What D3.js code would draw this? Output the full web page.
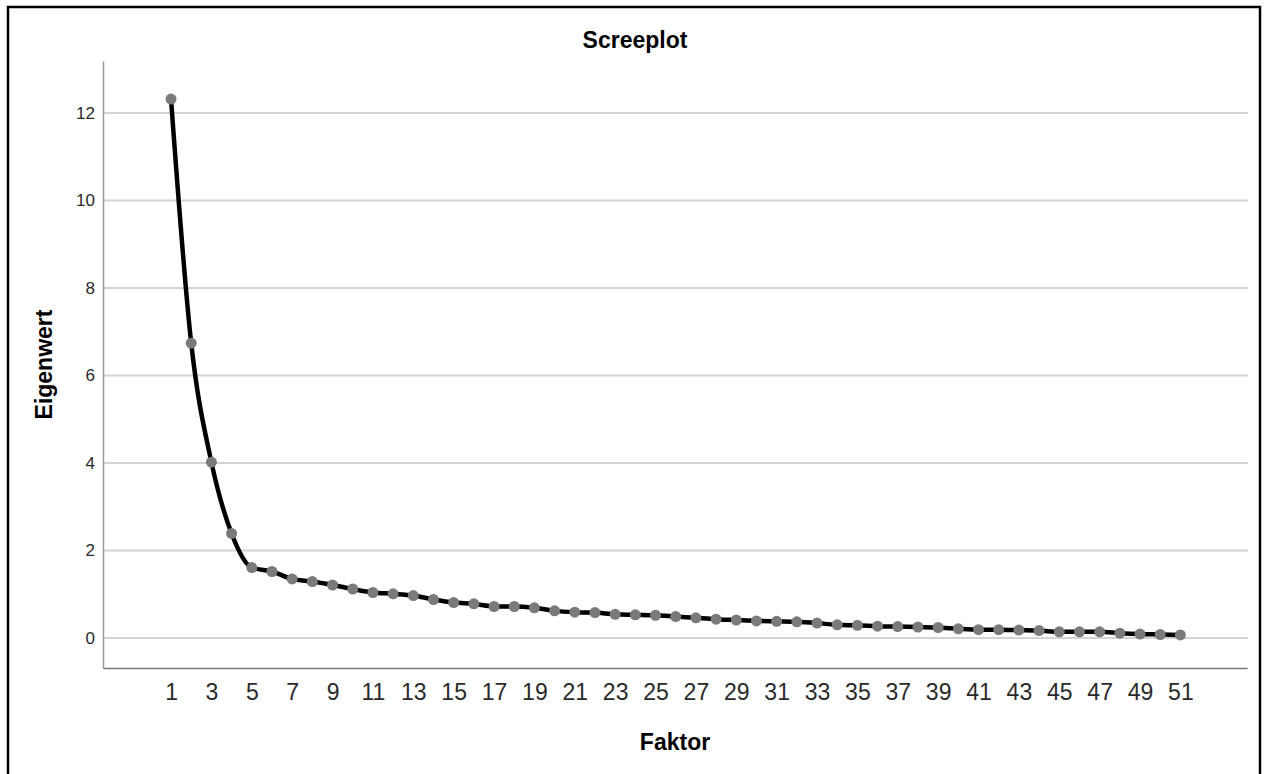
<!DOCTYPE html>
<meta charset="utf-8">
<script src="https://cdn.jsdelivr.net/npm/d3@7"></script>
<style>
  body { margin: 0; background: #fff; }
  text { font-family: "Liberation Sans", Arial, sans-serif; }
  .tick text { fill: #2a2a2a; }
</style>
<body>
<script>

// eigenvalues of factors 1..51
var eigenvalues = [
  12.32, 6.74, 4.02, 2.39, 1.61, 1.52, 1.35, 1.29, 1.21, 1.12,
  1.04, 1.01, 0.97, 0.88, 0.81, 0.78, 0.72, 0.72, 0.69, 0.62,
  0.59, 0.58, 0.54, 0.53, 0.52, 0.49, 0.46, 0.43, 0.41, 0.39,
  0.38, 0.37, 0.34, 0.30, 0.29, 0.27, 0.26, 0.25, 0.24, 0.21,
  0.19, 0.19, 0.18, 0.17, 0.14, 0.14, 0.14, 0.11, 0.09, 0.08,
  0.07
];

var xTicks = [1, 3, 5, 7, 9, 11, 13, 15, 17, 19, 21, 23, 25, 27, 29, 31, 33,
              35, 37, 39, 41, 43, 45, 47, 49, 51];
var yTicks = [0, 2, 4, 6, 8, 10, 12];

var titleText = "Screeplot",
    xLabel = "Faktor",
    yLabel = "Eigenwert";

var width = 1264,
    height = 774;

var data = eigenvalues.map(function(v, i) {
  return {factor: i + 1, value: v};
});

var svg = d3.select("body").append("svg")
    .attr("width", width)
    .attr("height", height);

// outer frame
svg.append("rect")
    .attr("x", 8)
    .attr("y", 7)
    .attr("width", 1252)
    .attr("height", 800)
    .attr("fill", "none")
    .attr("stroke", "#000")
    .attr("stroke-width", 2.5);

var x = d3.scaleLinear().domain([-2.37, 54.3]).range([103, 1247]);
var y = d3.scaleLinear().domain([-0.686, 13.19]).range([668, 61]);

// gridlines
svg.append("g")
    .selectAll("line")
    .data(yTicks)
    .enter().append("line")
    .attr("x1", x.range()[0])
    .attr("x2", x.range()[1] + 1)
    .attr("y1", function(d) { return y(d); })
    .attr("y2", function(d) { return y(d); })
    .attr("stroke", "#d3d3d3")
    .attr("stroke-width", 2);

// y axis
var yAxis = svg.append("g")
    .attr("transform", "translate(" + x.range()[0] + ",0)")
    .call(d3.axisLeft(y).tickValues(yTicks).tickSize(0).tickPadding(8));
yAxis.select(".domain").attr("stroke", "#999").attr("stroke-width", 1.5);
yAxis.selectAll("text").style("font-size", "17px");

// x axis
var xAxis = svg.append("g")
    .attr("transform", "translate(0," + y.range()[0] + ")")
    .call(d3.axisBottom(x).tickValues(xTicks).tickSize(0).tickPadding(16));
xAxis.select(".domain").attr("stroke", "#777").attr("stroke-width", 1.5);
xAxis.selectAll("text").style("font-size", "23px");

// the scree line
var line = d3.line()
    .x(function(d) { return x(d.factor); })
    .y(function(d) { return y(d.value); })
    .curve(d3.curveMonotoneX);

svg.append("path")
    .datum(data)
    .attr("d", line)
    .attr("fill", "none")
    .attr("stroke", "#000")
    .attr("stroke-width", 4.5);

svg.append("g")
    .selectAll("circle")
    .data(data)
    .enter().append("circle")
    .attr("cx", function(d) { return x(d.factor); })
    .attr("cy", function(d) { return y(d.value); })
    .attr("r", 5.5)
    .attr("fill", "#7a7a7a");

// titles
svg.append("text")
    .attr("x", 635)
    .attr("y", 48)
    .attr("text-anchor", "middle")
    .style("font-size", "23px")
    .style("font-weight", 700)
    .text(titleText);

svg.append("text")
    .attr("x", (x.range()[0] + x.range()[1]) / 2)
    .attr("y", 750)
    .attr("text-anchor", "middle")
    .style("font-size", "23px")
    .style("font-weight", 700)
    .text(xLabel);

svg.append("text")
    .attr("transform", "translate(52," + (y.range()[0] + y.range()[1]) / 2 + ") rotate(-90)")
    .attr("text-anchor", "middle")
    .style("font-size", "23px")
    .style("font-weight", 700)
    .text(yLabel);

</script>
</body>
